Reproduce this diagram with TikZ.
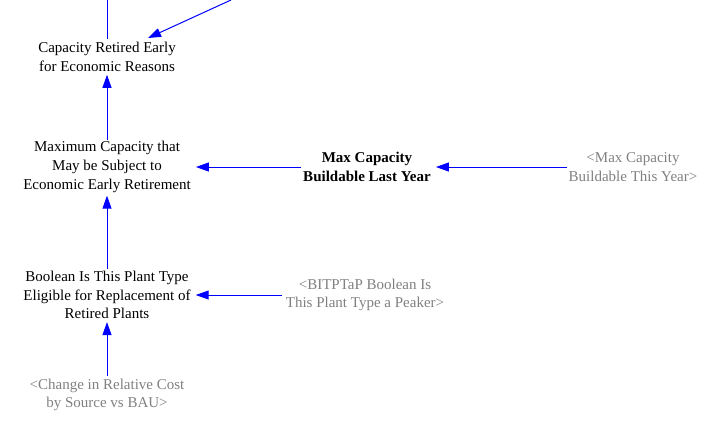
\documentclass[tikz,border=0pt]{standalone}
\usepackage{fontspec}
\setmainfont{Liberation Serif}
\usetikzlibrary{arrows.meta,calc}
\definecolor{vblue}{RGB}{0,0,255}
\definecolor{ghost}{RGB}{128,128,128}
\tikzset{
  var/.style={align=center,inner sep=0pt,font=\fontsize{15}{18.6}\selectfont},
  shadow/.style={var,text=ghost},
  arr/.style={draw=vblue,line width=1pt,-{Triangle[length=13pt,width=9pt]}},
  plain/.style={draw=vblue,line width=1pt},
}
\begin{document}
\begin{tikzpicture}[x=1pt,y=-1pt]
\useasboundingbox (0,0) rectangle (717,429);
\node[var] (cre) at (107,57) {Capacity Retired Early\\for Economic Reasons};
\node[var] (mcer) at (107,167) {Maximum Capacity that\\May be Subject to\\Economic Early Retirement};
\node[var,font=\fontsize{15}{18.6}\selectfont\bfseries] (mcbly) at (367,167) {Max Capacity\\Buildable Last Year};
\node[shadow] (mcbty) at (633,167) {<Max Capacity\\Buildable This Year>};
\node[var] (bool) at (107,295) {Boolean Is This Plant Type\\Eligible for Replacement of\\Retired Plants};
\node[shadow] (peak) at (365,295) {<BITPTaP Boolean Is\\This Plant Type a Peaker>};
\node[shadow] (chg) at (107,395) {<Change in Relative Cost\\by Source vs BAU>};
\coordinate (topout) at (107,0);
\coordinate (topsrc) at (231,0);
\coordinate (ctip) at (148,38);
\draw[plain,shorten <=3pt] (cre.north) -- (topout);
\draw[arr] (topsrc) -- (ctip);
\draw[arr,shorten >=3pt,shorten <=1pt] (mcer.north) -- (cre.south);
\draw[arr,shorten >=3pt,shorten <=2pt] (bool.north) -- (mcer.south);
\draw[arr,shorten >=5pt,shorten <=2pt] (mcbly.west) -- (mcer.east);
\draw[arr,shorten >=5pt,shorten <=2pt] (mcbty.west) -- (mcbly.east);
\draw[arr,shorten >=5pt,shorten <=4pt] (peak.west) -- (bool.east);
\draw[arr,shorten >=3pt,shorten <=3pt] (chg.north) -- (bool.south);
\end{tikzpicture}
\end{document}
